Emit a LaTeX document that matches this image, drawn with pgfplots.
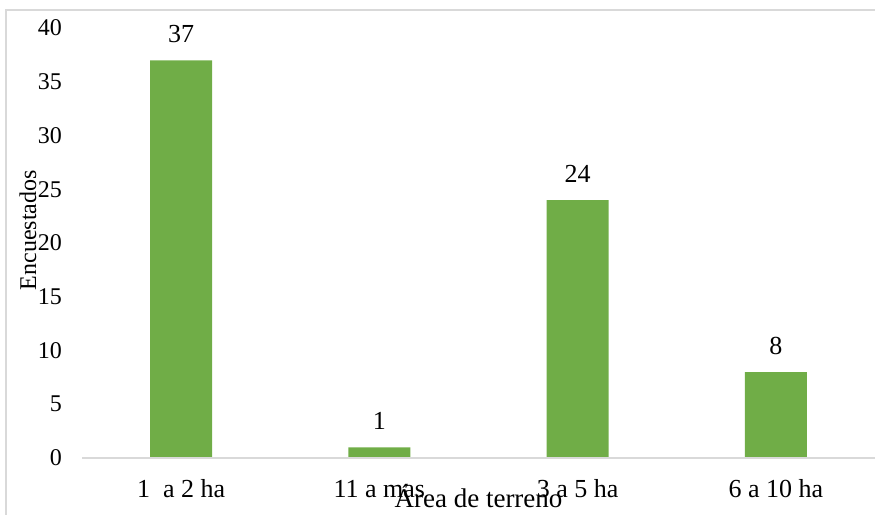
\documentclass[border=0pt]{standalone}
\usepackage{pgfplots}
\pgfplotsset{compat=1.18}
\usepackage{fontspec}
\setmainfont{Liberation Serif}

\definecolor{barra}{HTML}{70AD47}
\definecolor{marco}{HTML}{D9D9D9}

\begin{document}
\begin{tikzpicture}
  \begin{axis}[
    at={(82pt,57pt)}, anchor=south west,
    scale only axis,
    width=793pt, height=430pt,
    xmin=-0.5, xmax=3.5,
    ymin=0, ymax=40,
    ytick={0,5,...,40},
    xtick={0,1,2,3},
    xticklabels={1\ \ a 2 ha, 11 a mas, 3 a 5 ha, 6 a 10 ha},
    axis x line*=bottom,
    axis y line*=left,
    axis line style={draw=none},
    major tick length=0pt,
    /pgf/number format/assume math mode=true,
    yticklabel style={font=\fontsize{24}{28}\selectfont, anchor=east, inner sep=0pt, xshift=-20pt},
    xticklabel style={font=\fontsize{26}{30}\selectfont, anchor=base, inner sep=0pt, yshift=-39pt},
    xlabel={Área de terreno},
    ylabel={Encuestados},
    xlabel style={font=\fontsize{27}{30}\selectfont, at={(axis description cs:0.5,-0.116)}, anchor=base, inner sep=0pt},
    ylabel style={font=\fontsize{24}{28}\selectfont, at={(axis description cs:-0.058,0.53)}, anchor=base, inner sep=0pt, rotate=0},
    ybar,
    bar width=62pt,
    nodes near coords,
    nodes near coords style={font=\fontsize{26}{30}\selectfont, anchor=base, inner sep=0pt, yshift=18pt, text=black},
    clip=false,
  ]
    \addplot[fill=barra, draw=none] coordinates {(0,37) (1,1) (2,24) (3,8)};
    % linea del eje x
    \draw[marco, line width=1.2pt] (rel axis cs:0,0) -- (rel axis cs:1,0);
  \end{axis}

  % marco del grafico (solo se ve arriba y a la izquierda)
  \fill[marco] (5.25pt,0pt) rectangle (6.75pt,505.75pt);
  \fill[marco] (5.25pt,504.25pt) rectangle (875pt,505.75pt);

  \pgfresetboundingbox
  \path[use as bounding box] (0pt,0pt) rectangle (875pt,515pt);
\end{tikzpicture}
\end{document}
